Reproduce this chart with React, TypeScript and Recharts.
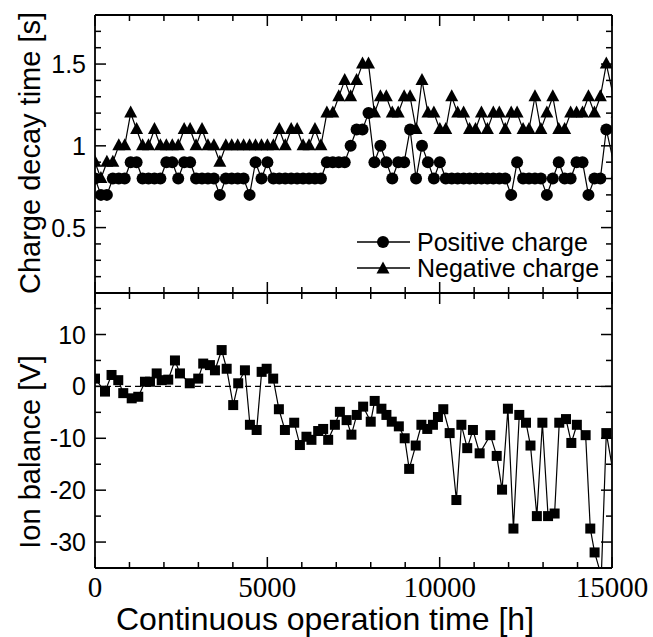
import React from 'react'
import { LineChart, Line, XAxis, YAxis, ReferenceLine, Legend, Label } from 'recharts'

// operating hours for the charge decay measurements
const decayHours = [
  0, 172, 345, 517, 690, 862, 1035, 1207, 1380, 1552, 1725, 1897, 2070, 2242, 2415, 2587, 2760, 2932,
  3105, 3277, 3450, 3622, 3795, 3967, 4140, 4312, 4485, 4657, 4830, 5002, 5175, 5347, 5520, 5692, 5865,
  6037, 6210, 6382, 6555, 6727, 6900, 7072, 7245, 7417, 7590, 7762, 7935, 8107, 8280, 8452, 8625, 8797,
  8970, 9142, 9315, 9487, 9660, 9832, 10005, 10177, 10350, 10522, 10695, 10867, 11040, 11212, 11385,
  11557, 11730, 11902, 12075, 12247, 12420, 12592, 12765, 12937, 13110, 13282, 13455, 13627, 13800,
  13972, 14145, 14317, 14490, 14662, 14835, 15150,
]
const positiveCharge = [
  0.8, 0.7, 0.7, 0.8, 0.8, 0.8, 0.9, 0.9, 0.8, 0.8, 0.8, 0.8, 0.9, 0.9, 0.8, 0.9, 0.9, 0.8, 0.8, 0.8, 0.8, 0.7,
  0.8, 0.8, 0.8, 0.8, 0.7, 0.9, 0.8, 0.9, 0.8,
  0.8, 0.8, 0.8, 0.8, 0.8, 0.8, 0.8, 0.8,
  0.9, 0.9, 0.9, 0.9,
  1.0, 1.1, 1.1, 1.2,
  0.9, 1.0, 0.9, 0.8, 0.9, 0.9, 1.1, 0.8, 1.0, 0.9, 0.8, 0.9,
  0.8, 0.8, 0.8, 0.8, 0.8, 0.8, 0.8, 0.8, 0.8, 0.8, 0.8,
  0.7, 0.9, 0.8, 0.8, 0.8, 0.8, 0.7, 0.8, 0.9, 0.8, 0.8, 0.9, 0.9, 0.7, 0.8, 0.8, 1.1,
  0.8,
]
const negativeCharge = [
  0.9, 0.8, 0.9, 0.9, 1.0, 1.0, 1.2, 1.1, 1.0, 1.0, 1.1, 1.0, 1.0, 1.0, 1.0, 1.1, 1.1, 1.0, 1.1, 1.0, 1.0, 0.9,
  1.0, 1.0, 1.0, 1.0, 1.0, 1.0, 1.0, 1.0, 1.0,
  1.1, 1.0, 1.1, 1.1, 1.0, 1.0, 1.1, 1.0,
  1.2, 1.2, 1.3, 1.4, 1.3, 1.4, 1.5, 1.5,
  1.2, 1.3, 1.3, 1.2, 1.2, 1.3, 1.3, 1.1, 1.4, 1.2, 1.2, 1.1,
  1.1, 1.3, 1.2, 1.2, 1.1, 1.1, 1.2,
  1.1, 1.2, 1.2, 1.1, 1.2, 1.2, 1.1, 1.1, 1.3, 1.1, 1.2, 1.3, 1.1, 1.1, 1.2, 1.2, 1.2, 1.3, 1.2, 1.3, 1.5,
  1.2,
]

// ion balance measurements
const balanceHours = [
  0, 290, 480, 675, 820, 1065, 1255, 1450, 1595, 1790,
  1935, 2125, 2320, 2465, 2750, 2995, 3140, 3335, 3480, 3675,
  3820, 4010, 4155, 4350, 4495, 4690, 4835, 4980, 5170, 5335,
  5510, 5780, 5945, 6135, 6280, 6475, 6620, 6765, 6960, 7105,
  7300, 7440, 7595, 7780, 8000, 8115, 8310, 8455, 8610, 8815,
  8985, 9115, 9305, 9470, 9640, 9805, 9950, 10105, 10290, 10485,
  10630, 10800, 10965, 11160, 11470, 11655, 11810, 11980, 12140, 12310,
  12505, 12635, 12820, 12980, 13145, 13335, 13470, 13665, 13820, 13980,
  14235, 14370, 14495, 14690, 14835, 15150,
]
const ionBalance = [
  1.5, -1.0, 2.2, 1.2, -1.3, -2.3, -2.0, 0.9, 0.9, 2.5,
  1.2, 1.3, 5.0, 2.5, 0.6, 1.5, 4.4, 4.1, 3.1, 7.0,
  3.4, -3.6, 0.6, 3.1, -7.4, -8.4, 2.8, 3.4, 1.5, -4.4,
  -8.4, -7.0, -11.3, -9.7, -10.3, -8.6, -8.2, -10.3, -7.4, -4.9,
  -6.5, -9.3, -5.5, -3.9, -6.8, -2.8, -4.3, -5.5, -6.8, -7.7,
  -10.0, -15.9, -11.4, -7.4, -8.2, -7.4, -5.9, -4.4, -9.0, -21.9,
  -7.4, -11.9, -8.4, -12.9, -9.4, -13.4, -19.9, -4.3, -27.4, -5.5,
  -7.0, -11.4, -25.0, -7.0, -25.0, -24.5, -7.0, -6.3, -10.9, -7.4,
  -9.4, -27.4, -32.0, -36.5, -9.0, -21.0,
]

const xTicks = [0, 1000, 2000, 3000, 4000, 5000, 6000, 7000, 8000, 9000, 10000, 11000, 12000, 13000, 14000, 15000]
const xLabels = [0, 5000, 10000, 15000]
const decayTicks = [0.2, 0.3, 0.4, 0.5, 0.6, 0.7, 0.8, 0.9, 1, 1.1, 1.2, 1.3, 1.4, 1.5, 1.6, 1.7]
const decayLabels = [0.5, 1, 1.5]
const balanceTicks = [-30, -25, -20, -15, -10, -5, 0, 5, 10, 15]
const balanceLabels = [-30, -20, -10, 0, 10]

const SERIF = "'Liberation Serif', 'Times New Roman', serif"
const SANS = "'Liberation Sans', Arial, sans-serif"
const MAJOR = 11
const MINOR = 6
const AXIS = { stroke: '#000', strokeWidth: 1.8 }

const decayData = decayHours.map((h, i) => ({ h, pos: positiveCharge[i], neg: negativeCharge[i] }))
const balanceData = balanceHours.map((h, i) => ({ h, v: ionBalance[i] }))

// inward tick marks, labels only on the major ones
const leftTick = (labels: number[]) => (p: any) => {
  const major = labels.includes(p.payload.value)
  return (
    <g>
      <line x1={p.x} x2={p.x + (major ? MAJOR : MINOR)} y1={p.y} y2={p.y} stroke="#000" strokeWidth={1.5} />
      {major && (
        <text x={p.x - 9} y={p.y + 9} textAnchor="end" style={{ fontFamily: SANS, fontSize: 25 }} fill="#000">
          {p.payload.value}
        </text>
      )}
    </g>
  )
}
const rightTick = (labels: number[]) => (p: any) => {
  const major = labels.includes(p.payload.value)
  return <line x1={p.x} x2={p.x - (major ? MAJOR : MINOR)} y1={p.y} y2={p.y} stroke="#000" strokeWidth={1.5} />
}
const topTick = (p: any) => {
  const major = xLabels.includes(p.payload.value)
  return <line x1={p.x} x2={p.x} y1={p.y} y2={p.y + (major ? MAJOR : MINOR)} stroke="#000" strokeWidth={1.5} />
}
const bottomTick = (withLabel: boolean) => (p: any) => {
  const major = xLabels.includes(p.payload.value)
  return (
    <g>
      <line x1={p.x} x2={p.x} y1={p.y} y2={p.y - (major ? MAJOR : MINOR)} stroke="#000" strokeWidth={1.5} />
      {withLabel && major && (
        <text x={p.x} y={p.y + 29} textAnchor="middle" style={{ fontFamily: SERIF, fontSize: 29 }} fill="#000">
          {p.payload.value}
        </text>
      )}
    </g>
  )
}

const circleDot = (p: any) => <circle key={`c${p.index}`} cx={p.cx} cy={p.cy} r={6} fill="#000" />
const triangleDot = (p: any) => (
  <path
    key={`t${p.index}`}
    d={`M${p.cx},${p.cy - 7.5}L${p.cx + 6.5},${p.cy + 4.5}L${p.cx - 6.5},${p.cy + 4.5}Z`}
    fill="#000"
  />
)
const squareDot = (p: any) => <rect key={`s${p.index}`} x={p.cx - 5} y={p.cy - 5} width={10} height={10} fill="#000" />

const legendOrder = ['pos', 'neg']
const renderLegend = (props: any) => {
  const items = [...(props.payload || [])].sort(
    (a: any, b: any) => legendOrder.indexOf(a.dataKey) - legendOrder.indexOf(b.dataKey)
  )
  return (
    <div style={{ fontFamily: SANS, fontSize: 25, lineHeight: '26px', color: '#000' }}>
      {items.map((entry: any) => (
        <div key={entry.value} style={{ display: 'flex', alignItems: 'center', height: 26 }}>
          <svg width={56} height={26}>
            <line x1={2} x2={55} y1={13} y2={13} stroke="#000" strokeWidth={1.3} />
            {entry.dataKey === 'pos'
              ? circleDot({ cx: 28, cy: 13, index: 'l' })
              : triangleDot({ cx: 28, cy: 14, index: 'l' })}
          </svg>
          <span style={{ marginLeft: 6, whiteSpace: 'nowrap' }}>{entry.value}</span>
        </div>
      ))}
    </div>
  )
}

export default function App() {
  return (
    <div style={{ position: 'absolute', left: 0, top: 0, width: 653, height: 637, background: '#fff' }}>
      <div style={{ position: 'absolute', left: 0, top: 0 }}>
        <LineChart width={653} height={300} data={decayData} margin={{ top: 14, right: 40, bottom: 6, left: 94 }}>
          <XAxis xAxisId="b" dataKey="h" type="number" domain={[0, 15000]} allowDataOverflow ticks={xTicks}
            interval={0} height={1} tickSize={0} tickMargin={0} axisLine={AXIS} tick={bottomTick(false)} />
          <XAxis xAxisId="t" orientation="top" dataKey="h" type="number" domain={[0, 15000]} allowDataOverflow
            ticks={xTicks} interval={0} height={1} tickSize={0} tickMargin={0} axisLine={AXIS} tick={topTick} />
          <YAxis yAxisId="l" type="number" domain={[0.1, 1.8]} allowDataOverflow ticks={decayTicks} interval={0}
            width={1} tickSize={0} tickMargin={0} axisLine={AXIS} tick={leftTick(decayLabels)}>
            <Label content={() => (
              <text x={30} y={153} transform="rotate(-90 30 153)" textAnchor="middle" dominantBaseline="central"
                style={{ fontFamily: SANS, fontSize: 29 }} fill="#000">Charge decay time [s]</text>
            )} />
          </YAxis>
          <YAxis yAxisId="r" orientation="right" type="number" domain={[0.1, 1.8]} allowDataOverflow ticks={decayTicks}
            interval={0} width={1} tickSize={0} tickMargin={0} axisLine={AXIS} tick={rightTick(decayLabels)} />
          <Legend layout="vertical" align="center" verticalAlign="middle" content={renderLegend}
            wrapperStyle={{ left: 355, top: 229, width: 'auto', height: 'auto' }} />
          <Line xAxisId="b" yAxisId="l" dataKey="pos" name="Positive charge" stroke="#000" strokeWidth={1.2}
            dot={circleDot} activeDot={false} isAnimationActive={false} />
          <Line xAxisId="b" yAxisId="l" dataKey="neg" name="Negative charge" stroke="#000" strokeWidth={1.2}
            dot={triangleDot} activeDot={false} isAnimationActive={false} />
        </LineChart>
      </div>
      <div style={{ position: 'absolute', left: 0, top: 286 }}>
        <LineChart width={653} height={351} data={balanceData} margin={{ top: 6, right: 40, bottom: 0, left: 94 }}>
          <XAxis xAxisId="b" dataKey="h" type="number" domain={[0, 15000]} allowDataOverflow ticks={xTicks}
            interval={0} height={69} tickSize={0} tickMargin={0} axisLine={AXIS} tick={bottomTick(true)}>
            <Label content={() => (
              <text x={325} y={344} textAnchor="middle" style={{ fontFamily: SANS, fontSize: 32 }} fill="#000">
                Continuous operation time [h]
              </text>
            )} />
          </XAxis>
          <XAxis xAxisId="t" orientation="top" dataKey="h" type="number" domain={[0, 15000]} allowDataOverflow
            ticks={xTicks} interval={0} height={1} tickSize={0} tickMargin={0} axisLine={AXIS} tick={topTick} />
          <YAxis yAxisId="l" type="number" domain={[-35, 18]} allowDataOverflow ticks={balanceTicks} interval={0}
            width={1} tickSize={0} tickMargin={0} axisLine={AXIS} tick={leftTick(balanceLabels)}>
            <Label content={() => (
              <text x={30} y={166} transform="rotate(-90 30 166)" textAnchor="middle" dominantBaseline="central"
                style={{ fontFamily: SANS, fontSize: 29 }} fill="#000">Ion balance [V]</text>
            )} />
          </YAxis>
          <YAxis yAxisId="r" orientation="right" type="number" domain={[-35, 18]} allowDataOverflow ticks={balanceTicks}
            interval={0} width={1} tickSize={0} tickMargin={0} axisLine={AXIS} tick={rightTick(balanceLabels)} />
          <ReferenceLine xAxisId="b" yAxisId="l" y={0} stroke="#000" strokeWidth={1.3} strokeDasharray="6 4" />
          <Line xAxisId="b" yAxisId="l" dataKey="v" stroke="#000" strokeWidth={1.2} dot={squareDot}
            activeDot={false} isAnimationActive={false} />
        </LineChart>
      </div>
    </div>
  )
}
